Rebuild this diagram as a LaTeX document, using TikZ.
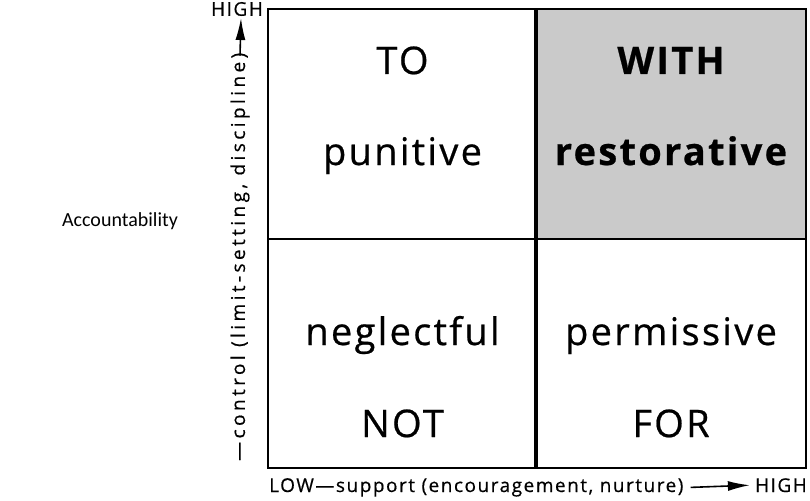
\documentclass[tikz,border=0pt]{standalone}
\usepackage{fontspec}
\setmainfont{Open Sans}
\newfontfamily\cellfont{Open Sans}[LetterSpace=6, FakeBold=0.6]
\newfontfamily\axisfont{Open Sans}[LetterSpace=8, FakeBold=0.5]
\newfontfamily\vaxisfont{Open Sans}[LetterSpace=18, FakeBold=0.5]
\newfontfamily\accfont{Carlito}
\usetikzlibrary{arrows.meta}
\definecolor{shade}{RGB}{202,202,202}
\tikzset{
  quad/.style={draw=black, line width=2, inner sep=0pt, minimum width=269, minimum height=229},
  celltext/.style={font=\cellfont\fontsize{38}{40}\selectfont, inner sep=0pt, anchor=base},
  boldtext/.style={celltext, font=\cellfont\bfseries\fontsize{38}{40}\selectfont},
  axistext/.style={font=\axisfont\fontsize{19}{21}\selectfont, inner sep=0pt},
  vaxistext/.style={font=\vaxisfont\fontsize{19}{21}\selectfont, inner sep=0pt},
  axisarrow/.style={line width=1.6, -{Latex[length=22,width=10]}},
}
\begin{document}
\begin{tikzpicture}[x=1pt,y=-1pt]
\useasboundingbox (0,0) rectangle (810,500);
% quadrants
\node[quad] (tl) at (402.5,124) {};
\node[quad, fill=shade] (tr) at (671,124) {};
\node[quad] (bl) at (402.5,353) {};
\node[quad] (br) at (671,353) {};
\draw[line width=3.5] (tr.north west) -- (br.south west);
% cell texts
\node[celltext] (to) at (402.5,74) {TO};
\node[celltext] (pun) at (402.5,165) {punitive};
\node[boldtext] (with) at (671,74) {WITH};
\node[boldtext] (rest) at (671,165) {restorative};
\node[celltext] (neg) at (402.5,345) {neglectful};
\node[celltext] (not) at (402.5,437) {NOT};
\node[celltext] (perm) at (671,345) {permissive};
\node[celltext] (for) at (671,437) {FOR};
% vertical axis
\node[vaxistext, rotate=90, anchor=west] (vlab) at (240,461) {—control (limit-setting, discipline)};
\node[axistext, anchor=center] (vhigh) at (237,9) {HIGH};
\coordinate (vtip) at (241,18);
\draw[axisarrow] ([yshift=-3]vlab.east) -- (vtip);
% horizontal axis
\node[axistext, anchor=base west] (hlab) at (269,492) {LOW—support (encouragement, nurture)};
\node[axistext, anchor=base east] (hhigh) at (807,492) {HIGH};
\draw[axisarrow] ([xshift=7]hlab.east) -- ([xshift=-5]hhigh.west);
% side label
\node[font=\accfont\fontsize{20}{22}\selectfont, inner sep=0pt, anchor=base] (acc) at (120,226) {Accountability};
\end{tikzpicture}
\end{document}
